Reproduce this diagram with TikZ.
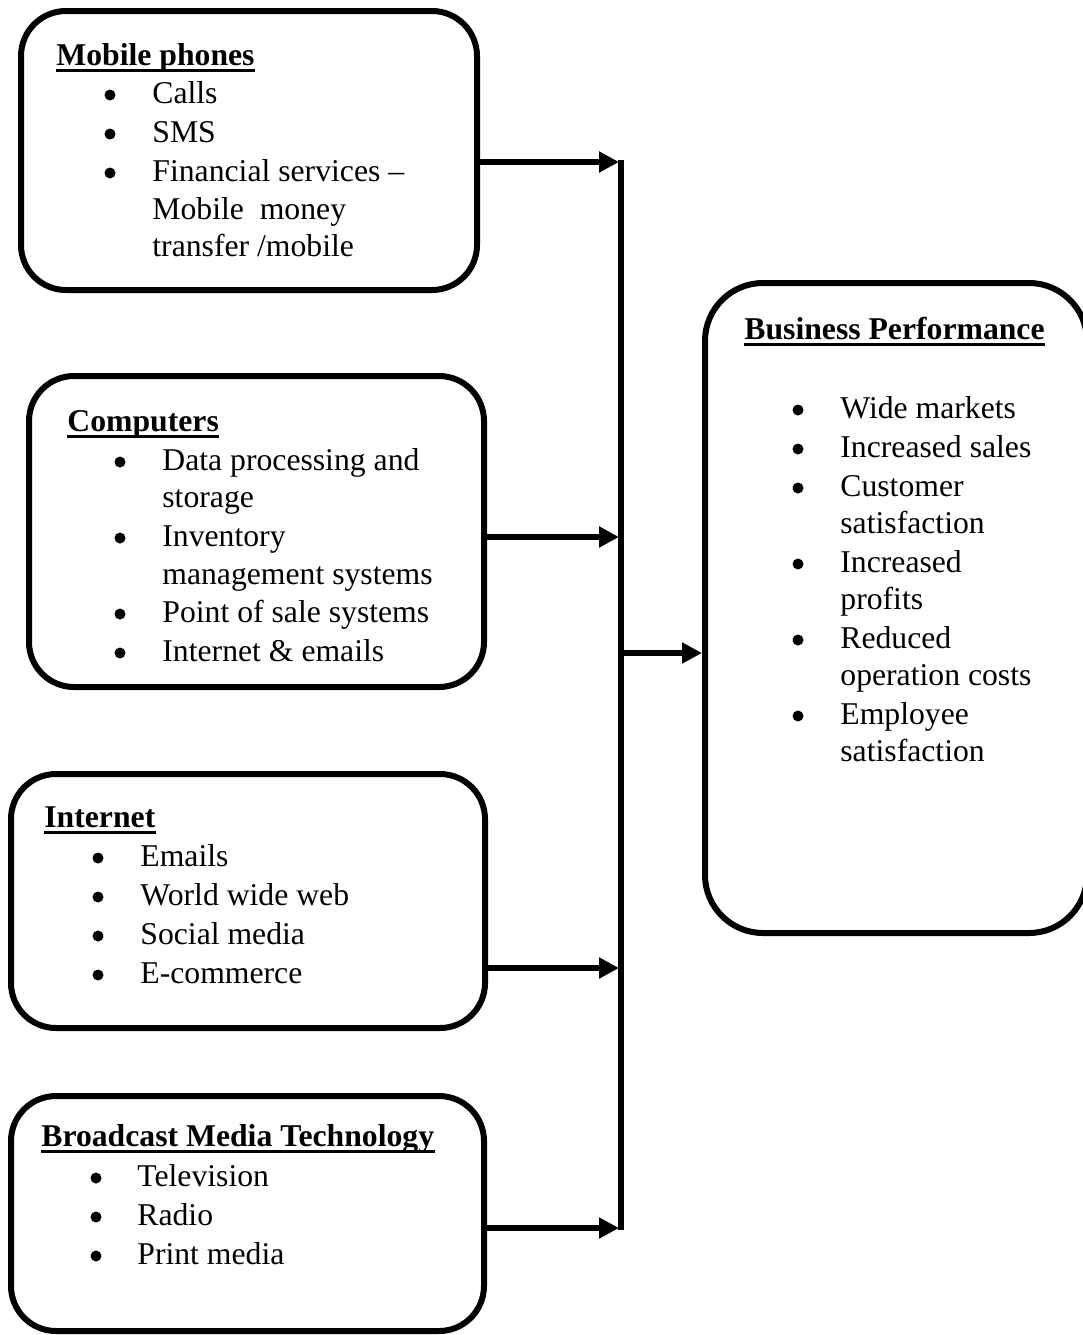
\documentclass[tikz,border=0pt]{standalone}
\usepackage{fontspec}
\setmainfont{Liberation Serif}
\usetikzlibrary{fit,arrows.meta}
\newcommand\fsz{\fontsize{15.85pt}{19pt}\selectfont}
\newcommand\bitem[5]{%
  \node[bul] (#1b) at (#2,#4-8) {};
  \node[txt] (#1) at (#3,#4) {#5};}
\newcommand\citem[4]{\node[txt] (#1) at (#2,#3) {#4};}
\newcommand\ttitle[4]{%
  \node[ttl] (#1) at (#2,#3) {#4};
  \draw[uline] ([yshift=-2.5pt]#1.base west) -- ([yshift=-2.5pt]#1.base east);}
\begin{document}
\begin{tikzpicture}[x=0.5pt,y=-0.5pt,
  box/.style={draw, line width=3pt, rounded corners=22.5pt, inner sep=0pt},
  bigbox/.style={box, rounded corners=29pt},
  txt/.style={anchor=base west, inner sep=0pt, font=\fsz},
  bul/.style={circle, fill, inner sep=0pt, minimum size=5.5pt},
  ttl/.style={anchor=base west, inner sep=0pt, font=\fsz\bfseries},
  uline/.style={line width=1.5pt},
  conn/.style={line width=3.2pt},
  arr/.style={conn, -{Triangle[length=10pt,width=10pt]}}]
\useasboundingbox (0,0) rectangle (1083,1335);

% boxes
\node[box, fit={(21,11)(477,290)}] (mob) {};
\node[box, fit={(29,376)(484,687)}] (comp) {};
\node[box, fit={(11,774)(485,1028)}] (inet) {};
\node[box, fit={(11,1096)(484,1331)}] (bcast) {};
\node[bigbox, fit={(705,283)(1087,933)}] (bus) {};

% Mobile phones
\ttitle{tm}{56}{65}{Mobile phones}
\bitem{m1}{110}{152}{103}{Calls}
\bitem{m2}{110}{152}{142}{SMS}
\bitem{m3}{110}{152}{181}{Financial services –}
\citem{m4}{152}{219}{Mobile\ \ money}
\citem{m5}{152}{256}{transfer /mobile}

% Computers
\ttitle{tc}{67}{431}{Computers}
\bitem{c1}{120}{162}{470}{Data processing and}
\citem{c2}{162}{507}{storage}
\bitem{c3}{120}{162}{546}{Inventory}
\citem{c4}{162}{584}{management systems}
\bitem{c5}{120}{162}{622}{Point of sale systems}
\bitem{c6}{120}{162}{661}{Internet \& emails}

% Internet
\ttitle{ti}{44}{827}{Internet}
\bitem{i1}{98}{140}{866}{Emails}
\bitem{i2}{98}{140}{905}{World wide web}
\bitem{i3}{98}{140}{944}{Social media}
\bitem{i4}{98}{140}{983}{E-commerce}

% Broadcast
\ttitle{tb}{41}{1146}{Broadcast Media Technology}
\bitem{b1}{96}{137}{1186}{Television}
\bitem{b2}{96}{137}{1225}{Radio}
\bitem{b3}{96}{137}{1264}{Print media}

% Business performance
\ttitle{tp}{744}{339}{Business Performance}
\bitem{p1}{798}{840}{418}{Wide markets}
\bitem{p2}{798}{840}{457}{Increased sales}
\bitem{p3}{798}{840}{496}{Customer}
\citem{p4}{840}{533}{satisfaction}
\bitem{p5}{798}{840}{572}{Increased}
\citem{p6}{840}{609}{profits}
\bitem{p7}{798}{840}{648}{Reduced}
\citem{p8}{840}{685}{operation costs}
\bitem{p9}{798}{840}{724}{Employee}
\citem{p10}{840}{761}{satisfaction}

% connectors
\coordinate (vtop) at (621,160);
\coordinate (vbot) at (621,1230);
\coordinate (ja) at (619,162);
\coordinate (jb) at (619,537);
\coordinate (jc) at (619,968);
\coordinate (jd) at (619,1228);
\coordinate (jm) at (621,653);
\draw[conn] (vtop) -- (vbot);
\draw[arr] (mob.east |- ja) -- (ja);
\draw[arr] (comp.east |- jb) -- (jb);
\draw[arr] (inet.east |- jc) -- (jc);
\draw[arr] (bcast.east |- jd) -- (jd);
\draw[arr] (jm) -- (bus.west |- jm);
\end{tikzpicture}
\end{document}
